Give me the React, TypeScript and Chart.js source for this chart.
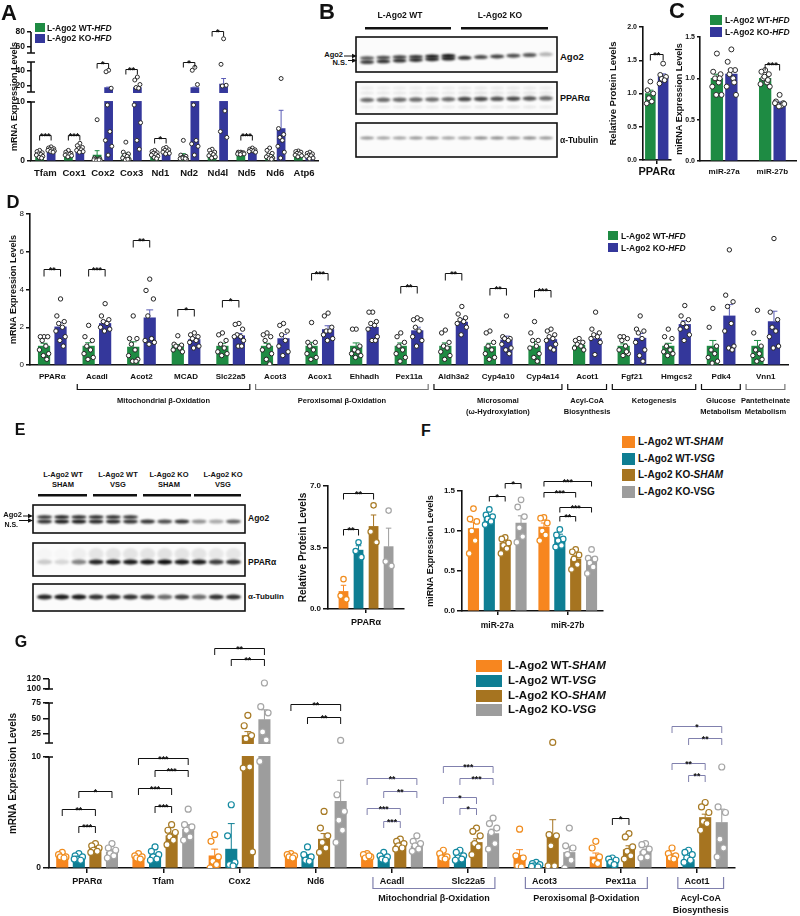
import React, { useEffect, useRef } from 'react';
import { Chart, registerables, LinearScale } from 'chart.js';

Chart.register(...registerables);

const FONT = 'Arial, "Liberation Sans", Helvetica, sans-serif';

// ---------- broken axis ----------
type Seg = { v0: number; v1: number; f0: number; f1: number };
const SEGMENTS: Record<string, Seg[]> = {
  A: [
    { v0: 0, v1: 10, f0: 0, f1: 0.457 },
    { v0: 12, v1: 52, f0: 0.535, f1: 0.767 },
    { v0: 52, v1: 80, f0: 0.837, f1: 1 },
  ],
  G: [
    { v0: 0, v1: 10, f0: 0, f1: 0.5873 },
    { v0: 10, v1: 75, f0: 0.6614, f1: 0.873 },
    { v0: 100, v1: 120, f0: 0.947, f1: 1 },
  ],
};
function segDec(segs: Seg[], v: number) {
  const s0 = segs[0];
  if (v <= s0.v1) return s0.f0 + ((v - s0.v0) / (s0.v1 - s0.v0)) * (s0.f1 - s0.f0);
  for (let i = 1; i < segs.length; i++) {
    const p = segs[i - 1], s = segs[i];
    if (v < s.v0) return p.f1 + ((v - p.v1) / (s.v0 - p.v1)) * (s.f0 - p.f1);
    if (v <= s.v1 || i === segs.length - 1) return s.f0 + ((v - s.v0) / (s.v1 - s.v0)) * (s.f1 - s.f0);
  }
  return 1;
}
function segVal(segs: Seg[], d: number) {
  const s0 = segs[0];
  if (d <= s0.f1) return s0.v0 + ((d - s0.f0) / (s0.f1 - s0.f0)) * (s0.v1 - s0.v0);
  for (let i = 1; i < segs.length; i++) {
    const p = segs[i - 1], s = segs[i];
    if (d < s.f0) return p.v1 + ((d - p.f1) / (s.f0 - p.f1)) * (s.v0 - p.v1);
    if (d <= s.f1 || i === segs.length - 1) return s.v0 + ((d - s.f0) / (s.f1 - s.f0)) * (s.v1 - s.v0);
  }
  return 0;
}
class BrokenScale extends (LinearScale as any) {
  static id = 'broken';
  static defaults = (LinearScale as any).defaults;
  segs(): Seg[] {
    return SEGMENTS[(this as any).options.segKey];
  }
  getPixelForValue(value: number) {
    if (value === null || value === undefined || isNaN(value)) return NaN;
    return (this as any).getPixelForDecimal(segDec(this.segs(), value));
  }
  getValueForPixel(pixel: number) {
    return segVal(this.segs(), (this as any).getDecimalForPixel(pixel));
  }
}
Chart.register(BrokenScale as any);

// ---------- colours ----------
const GREEN = '#1e8b43';
const BLUE = '#34379b';
const ORANGE = '#f7861f';
const TEAL = '#0e7e93';
const BROWN = '#a67420';
const GRAY = '#9d9d9d';
const PURPLE = '#8080ad';

// ---------- data: panel A ----------
const A_CATS = ['Tfam', 'Cox1', 'Cox2', 'Cox3', 'Nd1', 'Nd2', 'Nd4l', 'Nd5', 'Nd6', 'Atp6'];
const A_WT_MEAN = [1.15, 1.2, 1.0, 1.0, 1.1, 0.9, 1.2, 1.3, 1.0, 1.2];
const A_WT_SEM = [0.15, 0.15, 0.75, 0.35, 0.15, 0.35, 0.2, 0.1, 0.22, 0.12];
const A_KO_MEAN = [1.9, 2.0, 18, 18, 1.6, 18, 22.5, 1.8, 5.5, 0.95];
const A_KO_SEM = [0.12, 0.2, 0.5, 0.5, 0.15, 0.5, 7.5, 0.1, 3.1, 0.12];
const A_WT_PTS = [
  [1.8, 1.6, 1.4, 1.2, 1.1, 1.0, 0.8, 0.6, 0.5],
  [1.8, 1.5, 1.3, 1.2, 1.1, 1.0, 0.9, 0.7],
  [7.0, 0.5, 0.4, 0.3, 0.2, 0.2, 0.1, 0.1, 0.2],
  [3.2, 1.5, 1.2, 1.0, 0.8, 0.5, 0.3, 0.2, 0.3],
  [1.8, 1.6, 1.4, 1.3, 1.1, 1.0, 0.8, 0.6, 0.4],
  [3.5, 1.0, 0.8, 0.6, 0.5, 0.4, 0.3, 0.5, 0.4],
  [2.0, 1.8, 1.5, 1.3, 1.1, 0.9, 0.7, 0.5],
  [1.5, 1.5, 1.4, 1.4, 1.3, 1.2, 1.2, 1.1],
  [2.2, 1.8, 1.3, 1.0, 0.8, 0.7, 0.5, 0.4, 0.3],
  [1.7, 1.6, 1.5, 1.3, 1.2, 1.0, 0.9, 0.7],
];
const A_KO_PTS = [
  [2.4, 2.2, 2.1, 2.0, 1.9, 1.8, 1.7, 1.6, 1.5],
  [3.0, 2.6, 2.3, 2.1, 1.9, 1.8, 1.6, 1.5],
  [41, 39, 17, 9.5, 5.0, 3.5, 2.5, 1.0],
  [32, 28, 22, 18, 17, 9.5, 6.5, 3.5, 2.0],
  [2.3, 2.1, 1.9, 1.8, 1.6, 1.5, 1.3, 1.2],
  [45, 41, 22, 9.5, 3.5, 2.9, 2.5, 1.0],
  [71, 49, 21, 20, 8.5, 5.0, 4.0],
  [2.2, 2.0, 1.9, 1.8, 1.7, 1.6, 1.5],
  [30, 5.5, 4.5, 4.0, 3.5, 2.5, 1.5, 0.5],
  [1.5, 1.3, 1.2, 1.0, 0.9, 0.8, 0.5, 0.4],
];
const A_BRACKETS = [
  { c: 0, a: 0, b: 1, y: 4.4, t: '***' },
  { c: 1, a: 0, b: 1, y: 4.4, t: '***' },
  { c: 2, a: 0, b: 1, y: 50.5, t: '*' },
  { c: 3, a: 0, b: 1, y: 42.5, t: '**' },
  { c: 4, a: 0, b: 1, y: 3.9, t: '*' },
  { c: 5, a: 0, b: 1, y: 52, t: '*' },
  { c: 6, a: 0, b: 1, y: 81.5, t: '*' },
  { c: 7, a: 0, b: 1, y: 4.4, t: '***' },
];
const A_TICKS = [0, 10, 20, 40, 60, 80];

// ---------- data: panel B ----------
const B_CATS = ['PPARα'];
const B_WT_MEAN = [1.0];
const B_WT_SEM = [0.05];
const B_WT_PTS = [[1.18, 1.05, 1.0, 0.93, 0.88, 0.85]];
const B_KO_MEAN = [1.25];
const B_KO_SEM = [0.045];
const B_KO_PTS = [[1.45, 1.28, 1.25, 1.22, 1.2, 1.15]];
const B_BRACKETS = [{ c: 0, a: 0, b: 1, y: 1.6, t: '**' }];
const B_TICKS = [0, 0.5, 1.0, 1.5, 2.0];
const B_AGO2 = [0.7, 0.75, 0.8, 0.85, 0.95, 1.0, 0, 0, 0, 0, 0, 0];
const B_NS = [0.8, 0.85, 0.85, 0.85, 0.9, 0.9, 0.85, 0.75, 0.8, 0.75, 0.7, 0.3];
const B_PPARA = [0.6, 0.6, 0.6, 0.6, 0.6, 0.6, 0.75, 0.75, 0.7, 0.75, 0.7, 0.6];
const B_TUB = [0.45, 0.4, 0.4, 0.45, 0.45, 0.4, 0.4, 0.5, 0.5, 0.45, 0.5, 0.45];

// ---------- data: panel C ----------
const C_CATS = ['miR-27a', 'miR-27b'];
const C_WT_MEAN = [1.0, 1.0];
const C_WT_SEM = [0.05, 0.025];
const C_WT_PTS = [
  [1.3, 1.08, 1.05, 1.0, 0.95, 0.9, 0.8, 0.8, 1.0],
  [1.1, 1.08, 1.05, 1.0, 0.95, 0.93, 0.9, 1.02, 0.98],
];
const C_KO_MEAN = [1.05, 0.7];
const C_KO_SEM = [0.06, 0.015];
const C_KO_PTS = [
  [1.35, 1.2, 1.1, 1.05, 1.0, 0.9, 0.8, 1.1, 0.95],
  [0.8, 0.72, 0.7, 0.68, 0.67, 0.7, 0.69, 0.66],
];
const C_BRACKETS = [{ c: 1, a: 0, b: 1, y: 1.17, t: '***' }];
const C_TICKS = [0, 0.5, 1.0, 1.5];

// ---------- data: panel D ----------
const D_CATS = ['PPARα', 'Acadl', 'Acot2', 'MCAD', 'Slc22a5', 'Acot3', 'Acox1', 'Ehhadh', 'Pex11a', 'Aldh3a2', 'Cyp4a10', 'Cyp4a14', 'Acot1', 'Fgf21', 'Hmgcs2', 'Pdk4', 'Vnn1'];
const D_WT_MEAN = [1.0, 1.0, 0.95, 1.0, 1.0, 1.0, 1.0, 1.0, 1.0, 1.0, 0.98, 1.0, 1.05, 1.0, 1.0, 1.0, 1.0];
const D_WT_SEM = [0.15, 0.18, 0.28, 0.08, 0.15, 0.15, 0.2, 0.17, 0.17, 0.17, 0.17, 0.25, 0.07, 0.12, 0.15, 0.3, 0.3];
const D_KO_MEAN = [2.02, 2.2, 2.5, 1.35, 1.55, 1.4, 1.88, 2.0, 1.82, 2.27, 1.33, 1.35, 1.4, 1.42, 2.15, 2.6, 2.3];
const D_KO_SEM = [0.22, 0.15, 0.42, 0.1, 0.12, 0.22, 0.2, 0.18, 0.18, 0.17, 0.2, 0.12, 0.25, 0.25, 0.2, 0.6, 0.55];
const D_WT_PTS = [
  [1.5, 1.5, 1.5, 1.3, 1.0, 0.8, 0.6, 0.5, 0.3],
  [2.1, 1.5, 1.3, 1.0, 0.8, 0.6, 0.4, 0.3],
  [2.6, 1.4, 1.4, 1.1, 0.8, 0.5, 0.3, 0.2, 0.2],
  [1.55, 1.1, 1.05, 1.0, 0.9, 0.8, 0.7],
  [1.7, 1.6, 1.3, 1.1, 0.9, 0.7, 0.6, 0.5],
  [1.7, 1.6, 1.5, 1.3, 1.0, 0.8, 0.6, 0.3, 0.05],
  [2.25, 1.2, 1.2, 1.0, 0.8, 0.6, 0.4, 0.3],
  [1.9, 1.9, 1.0, 0.8, 0.7, 0.6, 0.5, 0.4],
  [1.7, 1.5, 1.2, 1.0, 0.8, 0.6, 0.4, 0.2],
  [1.85, 1.7, 1.2, 1.0, 0.9, 0.7, 0.5, 0.3],
  [1.8, 1.7, 1.2, 1.0, 0.8, 0.6, 0.4, 0.3],
  [2.3, 1.7, 1.3, 1.3, 1.0, 0.9, 0.6, 0.4, 0.2],
  [1.4, 1.3, 1.2, 1.1, 1.0, 0.9, 0.8],
  [1.5, 1.5, 1.4, 1.3, 1.0, 0.8, 0.6, 0.5, 0.7],
  [1.9, 1.5, 1.4, 1.0, 0.8, 0.7, 0.6, 0.5],
  [3.0, 2.0, 1.0, 0.8, 0.6, 0.4, 0.2, 0.1],
  [2.9, 1.7, 1.0, 0.8, 0.6, 0.5, 0.3, 0.2],
];
const D_KO_PTS = [
  [3.5, 2.6, 2.3, 2.2, 2.0, 1.8, 1.5, 1.3, 1.0],
  [3.25, 2.6, 2.4, 2.3, 2.2, 2.0, 1.9, 1.8],
  [4.55, 3.95, 3.5, 2.6, 1.4, 1.3, 1.2, 1.1],
  [1.7, 1.6, 1.5, 1.4, 1.3, 1.2, 1.0, 0.9],
  [2.2, 2.15, 1.9, 1.6, 1.5, 1.5, 1.3, 1.0, 1.0],
  [2.2, 2.1, 1.8, 1.6, 1.3, 1.0, 0.7, 0.5],
  [2.75, 2.6, 2.0, 1.8, 1.8, 1.6, 1.4, 1.3],
  [2.8, 2.8, 2.3, 2.2, 2.1, 1.9, 1.5, 1.3, 1.3],
  [2.5, 2.4, 2.4, 2.0, 1.8, 1.5, 1.3, 1.0],
  [3.1, 2.7, 2.5, 2.4, 2.3, 2.2, 2.0, 1.6],
  [2.6, 1.5, 1.4, 1.4, 1.3, 1.1, 0.9, 0.8, 0.6],
  [1.9, 1.8, 1.6, 1.5, 1.4, 1.3, 1.1, 0.9, 0.8],
  [2.8, 1.9, 1.7, 1.6, 1.5, 1.4, 1.2, 0.55],
  [2.6, 1.9, 1.8, 1.7, 1.4, 1.2, 0.8, 0.5, 0.2],
  [3.15, 2.6, 2.4, 2.2, 2.0, 1.9, 1.6, 1.3],
  [6.1, 3.7, 3.35, 3.1, 2.2, 1.8, 1.0, 0.9, 0.8],
  [6.7, 2.8, 2.4, 2.0, 1.8, 1.5, 1.0, 0.9],
];
const D_BRACKETS = [
  { c: 0, a: 0, b: 1, y: 5.1, t: '**' },
  { c: 1, a: 0, b: 1, y: 5.1, t: '***' },
  { c: 2, a: 0, b: 1, y: 6.6, t: '**' },
  { c: 3, a: 0, b: 1, y: 2.95, t: '*' },
  { c: 4, a: 0, b: 1, y: 3.45, t: '*' },
  { c: 6, a: 0, b: 1, y: 4.9, t: '***' },
  { c: 8, a: 0, b: 1, y: 4.2, t: '**' },
  { c: 9, a: 0, b: 1, y: 4.9, t: '**' },
  { c: 10, a: 0, b: 1, y: 4.1, t: '**' },
  { c: 11, a: 0, b: 1, y: 4.0, t: '***' },
];
const D_TICKS = [0, 2, 4, 6, 8];
const D_GROUPS = [
  { from: 1, to: 4, lines: ['Mitochondrial β-Oxidation'], col: '#111' },
  { from: 5, to: 8, lines: ['Peroxisomal β-Oxidation'], col: '#777' },
  { from: 9, to: 11, lines: ['Microsomal', '(ω-Hydroxylation)'], col: '#111' },
  { from: 12, to: 12, lines: ['Acyl-CoA', 'Biosynthesis'], col: '#111' },
  { from: 13, to: 14, lines: ['Ketogenesis'], col: '#111' },
  { from: 15, to: 15, lines: ['Glucose', 'Metabolism'], col: '#111' },
  { from: 16, to: 16, lines: ['Pantetheinate', 'Metabolism'], col: '#777' },
];

// ---------- data: panel E ----------
const E_CATS = ['PPARα'];
const E_WS_MEAN = [1.0];
const E_WS_SEM = [0.35];
const E_WS_PTS = [[1.7, 0.75, 0.55]];
const E_WV_MEAN = [3.35];
const E_WV_SEM = [0.25];
const E_WV_PTS = [[3.8, 3.3, 2.95]];
const E_KS_MEAN = [4.7];
const E_KS_SEM = [0.65];
const E_KS_PTS = [[5.9, 4.4, 3.8]];
const E_KV_MEAN = [3.55];
const E_KV_SEM = [1.05];
const E_KV_PTS = [[5.6, 2.7, 2.45]];
const E_BRACKETS = [
  { c: 0, a: 0, b: 2, y: 6.6, t: '**' },
  { c: 0, a: 0, b: 1, y: 4.55, t: '**' },
];
const E_TICKS = [0, 3.5, 7.0];
const E_AGO2 = [0.85, 0.95, 0.9, 0.9, 0.9, 0.85, 0, 0, 0, 0, 0, 0];
const E_NS = [0.85, 0.95, 0.95, 0.9, 0.9, 0.85, 0.85, 0.75, 0.85, 0.45, 0.35, 0.65];
const E_PPARA = [0.2, 0.15, 0.5, 0.9, 0.95, 0.95, 0.95, 1.0, 0.95, 0.95, 0.8, 0.85];
const E_TUB = [0.9, 0.95, 0.95, 0.85, 0.85, 0.85, 0.8, 0.6, 0.8, 0.6, 0.85, 0.85];

// ---------- data: panel F ----------
const F_CATS = ['miR-27a', 'miR-27b'];
const F_WS_MEAN = [1.03, 1.05];
const F_WS_SEM = [0.08, 0.05];
const F_WS_PTS = [[1.28, 1.15, 1.12, 1.0, 0.88, 0.72], [1.17, 1.16, 1.1, 1.0, 0.95, 0.88]];
const F_WV_MEAN = [1.17, 0.92];
const F_WV_SEM = [0.03, 0.04];
const F_WV_PTS = [[1.27, 1.2, 1.18, 1.15, 1.12, 1.08], [1.02, 0.95, 0.9, 0.88, 0.82, 0.8]];
const F_KS_MEAN = [0.85, 0.65];
const F_KS_SEM = [0.03, 0.04];
const F_KS_PTS = [[0.92, 0.9, 0.85, 0.82, 0.78, 0.72], [0.77, 0.74, 0.7, 0.65, 0.58, 0.52]];
const F_KV_MEAN = [1.1, 0.63];
const F_KV_SEM = [0.09, 0.04];
const F_KV_PTS = [[1.39, 1.3, 1.18, 1.04, 0.93, 0.86], [0.77, 0.66, 0.65, 0.6, 0.55, 0.47]];
const F_BRACKETS = [
  { c: 0, a: 1, b: 2, y: 1.44, t: '*' },
  { c: 0, a: 2, b: 3, y: 1.6, t: '*' },
  { c: 1, a: 0, b: 3, y: 1.63, t: '***' },
  { c: 1, a: 0, b: 2, y: 1.49, t: '***' },
  { c: 1, a: 1, b: 3, y: 1.3, t: '***' },
  { c: 1, a: 1, b: 2, y: 1.19, t: '**' },
];
const F_TICKS = [0, 0.5, 1.0, 1.5];

// ---------- data: panel G ----------
const G_CATS = ['PPARα', 'Tfam', 'Cox2', 'Nd6', 'Acadl', 'Slc22a5', 'Acot3', 'Pex11a', 'Acot1'];
const G_WS_MEAN = [1.1, 1.0, 1.1, 1.1, 1.1, 1.1, 1.15, 1.0, 1.1];
const G_WS_SEM = [0.1, 0.1, 0.6, 0.1, 0.1, 0.15, 0.5, 0.35, 0.17];
const G_WS_PTS = [
  [1.4, 1.2, 1.0, 1.0, 0.9],
  [1.3, 1.1, 1.0, 0.9, 0.8],
  [3.0, 2.4, 1.0, 0.6, 0.3, 0.0],
  [1.3, 1.2, 1.1, 1.0, 0.9],
  [1.3, 1.2, 1.0, 0.9, 1.1],
  [1.6, 1.3, 1.0, 0.9, 0.8],
  [3.5, 1.1, 0.9, 0.2, 0.1],
  [2.4, 1.8, 1.0, 0.6, 0.4],
  [1.8, 1.3, 1.1, 0.9, 0.8],
];
const G_WV_MEAN = [0.95, 1.1, 1.7, 1.0, 0.95, 1.0, 0.3, 0.55, 0.75];
const G_WV_SEM = [0.1, 0.15, 2.3, 0.2, 0.12, 0.13, 0.06, 0.1, 0.15];
const G_WV_PTS = [
  [1.3, 1.1, 1.0, 0.8, 0.7, 0.8],
  [1.9, 1.5, 1.2, 1.0, 0.8, 0.7],
  [5.7, 2.9, 0.5, 0.3, 0.2],
  [1.9, 1.2, 1.0, 0.7, 0.6],
  [1.4, 1.1, 1.0, 0.8, 0.7],
  [1.6, 1.4, 1.1, 0.9, 0.8, 0.7],
  [0.5, 0.4, 0.3, 0.2, 0.1, 0.15],
  [0.9, 0.8, 0.7, 0.5, 0.3],
  [1.6, 1.4, 1.2, 0.9, 0.7, 0.5],
];
const G_KS_MEAN = [1.75, 2.9, 22, 2.6, 2.1, 2.3, 3.0, 1.65, 4.55];
const G_KS_SEM = [0.12, 0.25, 6.5, 0.5, 0.15, 0.33, 1.35, 0.35, 0.3];
const G_KS_PTS = [
  [2.2, 2.0, 1.8, 1.6, 1.5, 1.4],
  [3.9, 3.4, 3.2, 2.8, 2.5, 2.1],
  [55, 38, 22, 17, 9.1, 9.0, 1.45],
  [5.1, 3.6, 2.9, 2.3, 1.8, 1.4],
  [2.6, 2.4, 2.2, 2.0, 1.8, 1.7],
  [3.6, 3.3, 2.9, 2.2, 1.9, 1.2],
  [11, 3.0, 2.9, 2.0, 0.2, 0.2],
  [3.1, 2.8, 1.9, 1.5, 1.1, 0.8],
  [5.9, 5.5, 5.0, 4.2, 4.0, 3.4],
];
const G_KV_MEAN = [1.45, 3.5, 48, 6.0, 1.97, 3.1, 1.4, 1.5, 4.1];
const G_KV_SEM = [0.2, 0.4, 16, 1.9, 0.2, 0.4, 0.5, 0.2, 1.2];
const G_KV_PTS = [
  [2.2, 1.8, 1.6, 1.3, 1.1, 0.9],
  [5.3, 3.9, 3.7, 3.4, 2.8, 2.5],
  [112, 69, 59, 28, 15, 9.6],
  [14.2, 6.6, 5.1, 4.3, 3.4, 2.3],
  [2.9, 2.4, 2.2, 2.0, 1.7, 1.5],
  [4.5, 4.0, 3.6, 3.2, 2.2, 1.7],
  [3.6, 2.0, 1.8, 1.2, 0.7, 0.0],
  [2.2, 2.1, 1.7, 1.4, 1.0, 0.9],
  [9.1, 5.5, 5.0, 2.6, 1.8, 1.0],
];
const G_BRACKETS = [
  { c: 0, a: 1, b: 3, y: 6.9, t: '*' },
  { c: 0, a: 0, b: 2, y: 5.3, t: '**' },
  { c: 0, a: 1, b: 2, y: 3.75, t: '***' },
  { c: 1, a: 0, b: 3, y: 9.95, t: '***' },
  { c: 1, a: 1, b: 3, y: 8.8, t: '***' },
  { c: 1, a: 0, b: 2, y: 7.2, t: '***' },
  { c: 1, a: 1, b: 2, y: 5.6, t: '***' },
  { c: 2, a: 0, b: 3, y: 182, t: '**' },
  { c: 2, a: 1, b: 3, y: 159, t: '**' },
  { c: 3, a: 0, b: 3, y: 73, t: '**' },
  { c: 3, a: 1, b: 3, y: 53, t: '**' },
  { c: 4, a: 0, b: 3, y: 8.1, t: '**', col: PURPLE },
  { c: 4, a: 1, b: 3, y: 6.95, t: '**', col: PURPLE },
  { c: 4, a: 0, b: 2, y: 5.4, t: '***', col: PURPLE },
  { c: 4, a: 1, b: 2, y: 4.2, t: '***', col: PURPLE },
  { c: 5, a: 0, b: 3, y: 9.2, t: '***', col: PURPLE },
  { c: 5, a: 1, b: 3, y: 8.1, t: '***', col: PURPLE },
  { c: 5, a: 0, b: 2, y: 6.4, t: '*', col: PURPLE },
  { c: 5, a: 1, b: 2, y: 5.37, t: '*', col: PURPLE },
  { c: 7, a: 1, b: 2, y: 4.5, t: '*' },
  { c: 8, a: 0, b: 3, y: 38, t: '*', col: PURPLE },
  { c: 8, a: 1, b: 3, y: 18, t: '**', col: PURPLE },
  { c: 8, a: 0, b: 2, y: 9.5, t: '**', col: PURPLE },
  { c: 8, a: 1, b: 2, y: 8.4, t: '**', col: PURPLE },
];
const G_TICKS = [0, 10, 25, 50, 75, 100, 120];
const G_GROUPS = [
  { from: 4, to: 5, lines: ['Mitochondrial β-Oxidation'], col: PURPLE },
  { from: 6, to: 7, lines: ['Peroxisomal β-Oxidation'], col: PURPLE },
  { from: 8, to: 8, lines: ['Acyl-CoA', 'Biosynthesis'], col: PURPLE },
];

// ---------- builders ----------
const SPREAD = [0, -0.32, 0.32, -0.16, 0.16, -0.4, 0.4, -0.06, 0.24, -0.24, 0.08, -0.1];

function panelConfig(p: any) {
  const n = p.cats.length;
  const k = p.series.length;
  const off = (j: number) => -p.cp / 2 + (p.cp / k) * (j + 0.5);
  const bw = (p.cp / k) * p.bp;
  const thick = (bw * (p.area.r - p.area.l)) / n;
  const datasets: any[] = [];
  p.series.forEach((s: any, j: number) =>
    datasets.push({
      type: 'bar', label: s.label,
      data: s.mean.map((m: number, i: number) => ({ x: i + off(j), y: m })),
      backgroundColor: s.color, borderWidth: 0, order: 2, grouped: false, barThickness: thick,
      xAxisID: 'xp', yAxisID: 'y',
    })
  );
  p.series.forEach((s: any, j: number) => {
    const data: any[] = [];
    s.pts.forEach((arr: number[], i: number) =>
      arr.forEach((v, q) => data.push({ x: i + off(j) + SPREAD[q % SPREAD.length] * bw, y: v }))
    );
    datasets.push({
      type: 'scatter', data, order: 1, xAxisID: 'xp', yAxisID: 'y', pointRadius: p.ptR, pointHoverRadius: p.ptR,
      pointBorderWidth: p.ptW || 1, pointBackgroundColor: '#fff', pointBorderColor: s.pt,
    });
  });
  const padL = p.titleX - p.box.x - p.titleSize / 2;
  const segs = p.segKey ? SEGMENTS[p.segKey] : null;
  const plugin = {
    id: 'decor',
    afterDatasetDraw(chart: any, args: any) {
      const i = args.index;
      if (i >= k) return;
      const ctx = chart.ctx;
      const ys = chart.scales.y;
      const s = p.series[i];
      ctx.save();
      ctx.strokeStyle = s.err || s.color;
      ctx.lineWidth = 1;
      args.meta.data.forEach((el: any, c: number) => {
        const e = s.sem[c];
        if (!e) return;
        const y0 = ys.getPixelForValue(s.mean[c]);
        const y1 = ys.getPixelForValue(s.mean[c] + e);
        const hw = el.width * 0.3;
        ctx.beginPath();
        ctx.moveTo(el.x, y0);
        ctx.lineTo(el.x, y1);
        ctx.moveTo(el.x - hw, y1);
        ctx.lineTo(el.x + hw, y1);
        ctx.stroke();
      });
      if (i === 0 && segs) {
        const a = chart.chartArea;
        ctx.fillStyle = '#fff';
        for (let g = 1; g < segs.length; g++) {
          const yLow = ys.getPixelForDecimal(segs[g - 1].f1);
          const yHigh = ys.getPixelForDecimal(segs[g].f0);
          ctx.fillRect(a.left + 1, yHigh + 1, a.right - a.left, yLow - yHigh - 2);
        }
      }
      ctx.restore();
    },
    afterDraw(chart: any) {
      const ctx = chart.ctx;
      const ys = chart.scales.y;
      const xp = chart.scales.xp;
      const a = chart.chartArea;
      ctx.save();
      if (segs) {
        ctx.strokeStyle = '#111';
        ctx.lineWidth = 1.6;
        segs.forEach((s: Seg, idx: number) => {
          const yb = ys.getPixelForDecimal(s.f0);
          const yt = ys.getPixelForDecimal(s.f1);
          ctx.beginPath();
          ctx.moveTo(a.left, yb);
          ctx.lineTo(a.left, yt);
          if (idx > 0) { ctx.moveTo(a.left - 4, yb); ctx.lineTo(a.left + 4, yb); }
          if (idx < segs.length - 1) { ctx.moveTo(a.left - 4, yt); ctx.lineTo(a.left + 4, yt); }
          ctx.stroke();
        });
      }
      ctx.lineWidth = 1;
      ctx.textAlign = 'center';
      ctx.textBaseline = 'alphabetic';
      ctx.font = `bold ${p.starSize}px ${FONT}`;
      for (const br of p.brackets) {
        const col = br.col || '#111';
        ctx.strokeStyle = col;
        ctx.fillStyle = '#111';
        const xa = xp.getPixelForValue(br.c + off(br.a));
        const xb = xp.getPixelForValue(br.c + off(br.b));
        const yy = Math.round(ys.getPixelForValue(br.y)) + 0.5;
        ctx.beginPath();
        ctx.moveTo(xa, yy + p.leg);
        ctx.lineTo(xa, yy);
        ctx.lineTo(xb, yy);
        ctx.lineTo(xb, yy + p.leg);
        ctx.stroke();
        ctx.fillText(br.t, (xa + xb) / 2, yy + p.starSize * 0.38);
      }
      if (p.groups) {
        ctx.font = `bold ${p.gSize}px ${FONT}`;
        ctx.textBaseline = 'middle';
        for (const g of p.groups) {
          const xl = xp.getPixelForValue(g.from + p.gL);
          const xr = xp.getPixelForValue(g.to + p.gR);
          const yt = a.bottom + p.gLegTop;
          const yb = Math.round(a.bottom + p.gLegBot) + 0.5;
          ctx.strokeStyle = g.col;
          ctx.lineWidth = 1.2;
          ctx.beginPath();
          ctx.moveTo(xl, yt);
          ctx.lineTo(xl, yb);
          ctx.lineTo(xr, yb);
          ctx.lineTo(xr, yt);
          ctx.stroke();
          ctx.fillStyle = '#111';
          g.lines.forEach((ln: string, li: number) =>
            ctx.fillText(ln, (xl + xr) / 2, a.bottom + p.gText + li * p.gLine)
          );
        }
      }
      ctx.restore();
    },
  };
  return {
    type: 'bar',
    data: { labels: p.cats, datasets },
    options: {
      responsive: false, animation: false, devicePixelRatio: 1, events: [],
      layout: { padding: { left: padL, top: p.area.t - p.box.y, right: p.box.x + p.box.w - p.area.r, bottom: 0 } },
      plugins: { legend: { display: false }, tooltip: { enabled: false }, title: { display: false } },
      scales: {
        x: {
          type: 'category', offset: true,
          grid: p.xTick
            ? { display: true, drawOnChartArea: false, drawTicks: true, offset: false, tickLength: p.xTick, color: '#111', lineWidth: 1.5 }
            : { display: false, drawTicks: false },
          border: { display: true, color: '#111', width: 1.6 },
          ticks: { color: '#111', font: { family: FONT, size: p.xFont, weight: 'bold', lineHeight: 1 }, padding: p.xPad, autoSkip: false, maxRotation: 0, minRotation: 0 },
          afterFit: (s: any) => { s.height = p.box.y + p.box.h - p.area.b; },
        },
        xp: { type: 'linear', display: false, offset: false, grid: { offset: false }, min: -0.5, max: n - 0.5 },
        y: {
          type: p.segKey ? 'broken' : 'linear', segKey: p.segKey, min: p.min, max: p.max,
          afterBuildTicks: (s: any) => { s.ticks = p.ticks.map((v: number) => ({ value: v })); },
          grid: { display: true, drawOnChartArea: false, drawTicks: true, tickLength: p.yTick, color: '#111', lineWidth: 1.5 },
          border: { display: !p.segKey, color: '#111', width: 1.6 },
          ticks: { color: '#111', font: { family: FONT, size: p.yFont, weight: p.yWeight || 'bold', lineHeight: 1 }, padding: 2, callback: (v: any) => p.fmt(Number(v)) },
          title: { display: true, text: p.title, color: '#111', padding: 0, font: { family: FONT, size: p.titleSize, weight: 'bold', lineHeight: 1 } },
          afterFit: (s: any) => { s.width = p.area.l - p.box.x - padL; },
        },
      },
    },
    plugins: [plugin],
  };
}

function blotConfig(rows: any[], lanes: number) {
  return {
    type: 'scatter',
    data: { datasets: [] },
    options: {
      responsive: false, animation: false, devicePixelRatio: 1, events: [],
      layout: { padding: { left: 4, right: 4, top: 0, bottom: 0 } },
      plugins: { legend: { display: false }, tooltip: { enabled: false } },
      scales: { x: { type: 'linear', display: false, offset: false, min: 0, max: lanes }, y: { type: 'linear', display: false, min: 0, max: 1 } },
    },
    plugins: [{
      id: 'blot',
      afterDraw(chart: any) {
        const ctx = chart.ctx;
        const xs = chart.scales.x;
        const W = chart.width;
        const lw = (xs.right - xs.left) / lanes;
        for (const r of rows) {
          ctx.save();
          ctx.fillStyle = '#fbfbfb';
          ctx.fillRect(1, r.top, W - 2, r.bottom - r.top);
          ctx.beginPath();
          ctx.rect(1, r.top, W - 2, r.bottom - r.top);
          ctx.clip();
          ctx.filter = 'blur(1.1px)';
          for (const b of r.bands) {
            b.vals.forEach((v: number, i: number) => {
              if (v <= 0) return;
              const xc = xs.getPixelForValue(i + 0.5);
              const yc = r.top + b.y + i * b.tilt;
              ctx.fillStyle = `rgba(12,12,12,${Math.min(1, v * b.k)})`;
              ctx.beginPath();
              ctx.ellipse(xc, yc, lw * 0.44, b.h / 2, 0, 0, Math.PI * 2);
              ctx.fill();
            });
          }
          ctx.restore();
          ctx.save();
          ctx.strokeStyle = '#111';
          ctx.lineWidth = 1.6;
          ctx.strokeRect(1, r.top, W - 2, r.bottom - r.top);
          ctx.restore();
        }
      },
    }],
  };
}

// ---------- panel specs ----------
const fmt0 = (v: number) => String(v);
const fmt1 = (v: number) => v.toFixed(1);

const PANEL_A = {
  box: { x: 0, y: 20, w: 322, h: 160 }, area: { l: 31, t: 32, r: 319, b: 161 },
  titleX: 15, titleSize: 9, title: 'mRNA Expression Levels',
  cats: A_CATS, min: 0, max: 80, ticks: A_TICKS, fmt: fmt0, segKey: 'A',
  series: [
    { label: 'L-Ago2 WT-HFD', color: GREEN, err: GREEN, pt: '#2a2a2a', mean: A_WT_MEAN, sem: A_WT_SEM, pts: A_WT_PTS },
    { label: 'L-Ago2 KO-HFD', color: BLUE, err: '#5a5cb5', pt: '#2a2a2a', mean: A_KO_MEAN, sem: A_KO_SEM, pts: A_KO_PTS },
  ],
  cp: 0.8, bp: 0.7, ptR: 2, brackets: A_BRACKETS, leg: 5, starSize: 9,
  xTick: 0, xPad: 7.2, xFont: 9.5, yFont: 8.5, yTick: 4,
};
const PANEL_B = {
  box: { x: 596, y: 20, w: 86, h: 165 }, area: { l: 643, t: 27, r: 673, b: 160 },
  titleX: 613, titleSize: 9.5, title: 'Relative Protein Levels',
  cats: B_CATS, min: 0, max: 2, ticks: B_TICKS, fmt: fmt1,
  series: [
    { label: 'WT', color: GREEN, err: GREEN, pt: '#2a2a2a', mean: B_WT_MEAN, sem: B_WT_SEM, pts: B_WT_PTS },
    { label: 'KO', color: BLUE, err: '#5a5cb5', pt: '#2a2a2a', mean: B_KO_MEAN, sem: B_KO_SEM, pts: B_KO_PTS },
  ],
  cp: 0.93, bp: 0.71, ptR: 2.4, brackets: B_BRACKETS, leg: 6, starSize: 9,
  xTick: 4, xPad: 2.5, xFont: 11, yFont: 7, yTick: 4,
};
const PANEL_C = {
  box: { x: 668, y: 20, w: 132, h: 165 }, area: { l: 700, t: 37, r: 797, b: 161 },
  titleX: 680, titleSize: 9, title: 'miRNA Expression Levels',
  cats: C_CATS, min: 0, max: 1.5, ticks: C_TICKS, fmt: fmt1,
  series: [
    { label: 'L-Ago2 WT-HFD', color: GREEN, err: GREEN, pt: '#2a2a2a', mean: C_WT_MEAN, sem: C_WT_SEM, pts: C_WT_PTS },
    { label: 'L-Ago2 KO-HFD', color: BLUE, err: '#5a5cb5', pt: '#2a2a2a', mean: C_KO_MEAN, sem: C_KO_SEM, pts: C_KO_PTS },
  ],
  cp: 0.6, bp: 0.8, ptR: 2.5, brackets: C_BRACKETS, leg: 6, starSize: 9,
  xTick: 0, xPad: 7, xFont: 8, yFont: 7, yTick: 3,
};
const PANEL_D = {
  box: { x: 0, y: 205, w: 800, h: 217 }, area: { l: 30, t: 214, r: 788, b: 365 },
  titleX: 14, titleSize: 9, title: 'mRNA Expression Levels',
  cats: D_CATS, min: 0, max: 8, ticks: D_TICKS, fmt: fmt0,
  series: [
    { label: 'L-Ago2 WT-HFD', color: GREEN, err: GREEN, pt: '#222', mean: D_WT_MEAN, sem: D_WT_SEM, pts: D_WT_PTS },
    { label: 'L-Ago2 KO-HFD', color: BLUE, err: '#5a5cb5', pt: '#222', mean: D_KO_MEAN, sem: D_KO_SEM, pts: D_KO_PTS },
  ],
  cp: 0.74, bp: 0.7, ptR: 2.2, brackets: D_BRACKETS, leg: 7, starSize: 8.5,
  xTick: 0, xPad: 8, xFont: 8, yFont: 8, yWeight: 'normal', yTick: 4,
  groups: D_GROUPS, gL: -0.44, gR: 0.43, gLegTop: 19, gLegBot: 24, gText: 35.5, gLine: 11, gSize: 7.5,
};
const PANEL_E = {
  box: { x: 290, y: 480, w: 118, h: 150 }, area: { l: 328, t: 486, r: 405, b: 609 },
  titleX: 303, titleSize: 10, title: 'Relative Protein Levels',
  cats: E_CATS, min: 0, max: 7, ticks: E_TICKS, fmt: fmt1,
  series: [
    { label: 'WT-SHAM', color: ORANGE, pt: '#f08c1e', mean: E_WS_MEAN, sem: E_WS_SEM, pts: E_WS_PTS },
    { label: 'WT-VSG', color: TEAL, pt: '#1389a0', mean: E_WV_MEAN, sem: E_WV_SEM, pts: E_WV_PTS },
    { label: 'KO-SHAM', color: BROWN, pt: '#a77a25', mean: E_KS_MEAN, sem: E_KS_SEM, pts: E_KS_PTS },
    { label: 'KO-VSG', color: GRAY, pt: '#a5a5a5', mean: E_KV_MEAN, sem: E_KV_SEM, pts: E_KV_PTS },
  ],
  cp: 0.79, bp: 0.6, ptR: 2.7, ptW: 1.2, brackets: E_BRACKETS, leg: 6, starSize: 9,
  xTick: 4, xPad: 5.5, xFont: 9, yFont: 8, yTick: 5,
};
const PANEL_F = {
  box: { x: 418, y: 470, w: 190, h: 170 }, area: { l: 462, t: 491, r: 603, b: 611 },
  titleX: 431, titleSize: 9, title: 'miRNA Expression Levels',
  cats: F_CATS, min: 0, max: 1.5, ticks: F_TICKS, fmt: fmt1,
  series: [
    { label: 'WT-SHAM', color: ORANGE, pt: '#f08c1e', mean: F_WS_MEAN, sem: F_WS_SEM, pts: F_WS_PTS },
    { label: 'WT-VSG', color: TEAL, pt: '#1389a0', mean: F_WV_MEAN, sem: F_WV_SEM, pts: F_WV_PTS },
    { label: 'KO-SHAM', color: BROWN, pt: '#a77a25', mean: F_KS_MEAN, sem: F_KS_SEM, pts: F_KS_PTS },
    { label: 'KO-VSG', color: GRAY, pt: '#a5a5a5', mean: F_KV_MEAN, sem: F_KV_SEM, pts: F_KV_PTS },
  ],
  cp: 0.9, bp: 0.66, ptR: 2.8, ptW: 1.2, brackets: F_BRACKETS, leg: 5, starSize: 8.5,
  xTick: 4, xPad: 6.75, xFont: 8.5, yFont: 8, yTick: 5,
};
const PANEL_G = {
  box: { x: 0, y: 635, w: 745, h: 281 }, area: { l: 49, t: 679, r: 735, b: 868 },
  titleX: 13, titleSize: 10, title: 'mRNA Expression Levels',
  cats: G_CATS, min: 0, max: 120, ticks: G_TICKS, fmt: fmt0, segKey: 'G',
  series: [
    { label: 'WT-SHAM', color: ORANGE, pt: '#f08c1e', mean: G_WS_MEAN, sem: G_WS_SEM, pts: G_WS_PTS },
    { label: 'WT-VSG', color: TEAL, pt: '#1389a0', mean: G_WV_MEAN, sem: G_WV_SEM, pts: G_WV_PTS },
    { label: 'KO-SHAM', color: BROWN, pt: '#a77a25', mean: G_KS_MEAN, sem: G_KS_SEM, pts: G_KS_PTS },
    { label: 'KO-VSG', color: GRAY, pt: '#a5a5a5', mean: G_KV_MEAN, sem: G_KV_SEM, pts: G_KV_PTS },
  ],
  cp: 0.87, bp: 0.69, ptR: 3, ptW: 1.2, brackets: G_BRACKETS, leg: 6.5, starSize: 8.5,
  xTick: 5, xPad: 4.5, xFont: 9, yFont: 8.5, yTick: 6,
  groups: G_GROUPS, gL: -0.25, gR: 0.35, gLegTop: 9, gLegBot: 20, gText: 31, gLine: 12, gSize: 9,
};

const B_ROWS = [
  { top: 1, bottom: 36, bands: [
    { y: 21, h: 3.5, tilt: -0.45, k: 1, vals: B_AGO2 },
    { y: 25, h: 4, tilt: -0.7, k: 1, vals: B_NS },
  ] },
  { top: 46, bottom: 78, bands: [
    { y: 6, h: 3, tilt: 0, k: 0.12, vals: B_PPARA },
    { y: 11, h: 3, tilt: 0, k: 0.14, vals: B_PPARA },
    { y: 18, h: 4.5, tilt: -0.15, k: 1, vals: B_PPARA },
    { y: 25, h: 3, tilt: 0, k: 0.12, vals: B_PPARA },
  ] },
  { top: 87, bottom: 121, bands: [{ y: 15, h: 3, tilt: 0, k: 1, vals: B_TUB }] },
];
const E_ROWS = [
  { top: 1, bottom: 29, bands: [
    { y: 12, h: 3.5, tilt: 0, k: 1, vals: E_AGO2 },
    { y: 16.5, h: 4, tilt: 0, k: 1, vals: E_NS },
  ] },
  { top: 39, bottom: 72, bands: [
    { y: 11, h: 12, tilt: 0, k: 0.1, vals: E_PPARA },
    { y: 19, h: 5, tilt: 0, k: 1, vals: E_PPARA },
  ] },
  { top: 80, bottom: 107, bands: [{ y: 13, h: 5, tilt: 0, k: 1, vals: E_TUB }] },
];

// ---------- React ----------
function ChartBox({ box, make }: any) {
  const ref = useRef<HTMLCanvasElement>(null);
  useEffect(() => {
    const c = new Chart(ref.current as any, make());
    return () => c.destroy();
  }, []);
  return (
    <canvas ref={ref} width={box.w} height={box.h}
      style={{ position: 'absolute', left: box.x, top: box.y, width: box.w, height: box.h }} />
  );
}

function T({ x, y, s, a = 'c', w = 'bold', children }: any) {
  const tx = a === 'c' ? '-50%' : a === 'r' ? '-100%' : '0';
  return (
    <div style={{ position: 'absolute', left: x, top: y, transform: `translate(${tx}, -50%)`, fontSize: s, fontWeight: w, lineHeight: 1, whiteSpace: 'nowrap', color: '#111' }}>
      {children}
    </div>
  );
}
function Sq({ x, y, w, h, c }: any) {
  return <div style={{ position: 'absolute', left: x, top: y, width: w, height: h, background: c }} />;
}

export default function App() {
  return (
    <div style={{ position: 'absolute', left: 0, top: 0, width: 800, height: 916, background: '#fff', overflow: 'hidden', fontFamily: FONT }}>
      <ChartBox box={PANEL_A.box} make={() => panelConfig(PANEL_A)} />
      <ChartBox box={PANEL_B.box} make={() => panelConfig(PANEL_B)} />
      <ChartBox box={PANEL_C.box} make={() => panelConfig(PANEL_C)} />
      <ChartBox box={PANEL_D.box} make={() => panelConfig(PANEL_D)} />
      <ChartBox box={PANEL_E.box} make={() => panelConfig(PANEL_E)} />
      <ChartBox box={PANEL_F.box} make={() => panelConfig(PANEL_F)} />
      <ChartBox box={PANEL_G.box} make={() => panelConfig(PANEL_G)} />
      <ChartBox box={{ x: 355, y: 36, w: 203, h: 123 }} make={() => blotConfig(B_ROWS, 12)} />
      <ChartBox box={{ x: 32, y: 504, w: 214, h: 108 }} make={() => blotConfig(E_ROWS, 12)} />

      {/* panel letters */}
      <T x={9} y={13} s={22}>A</T>
      <T x={327} y={12} s={22}>B</T>
      <T x={677} y={11} s={22}>C</T>
      <T x={13} y={202} s={18}>D</T>
      <T x={20} y={430} s={16}>E</T>
      <T x={426} y={431} s={16}>F</T>
      <T x={21} y={642} s={16}>G</T>

      {/* legend A */}
      <Sq x={35} y={23} w={10} h={9} c={GREEN} />
      <Sq x={35} y={33.5} w={10} h={9} c={BLUE} />
      <T x={47} y={27.5} s={8.5} a="l">L-Ago2 WT-<i>HFD</i></T>
      <T x={47} y={38} s={8.5} a="l">L-Ago2 KO-<i>HFD</i></T>

      {/* legend C */}
      <Sq x={710} y={15} w={12} h={10} c={GREEN} />
      <Sq x={710} y={27} w={12} h={10} c={BLUE} />
      <T x={725} y={20} s={8.5} a="l">L-Ago2 WT-<i>HFD</i></T>
      <T x={725} y={32} s={8.5} a="l">L-Ago2 KO-<i>HFD</i></T>

      {/* legend D */}
      <Sq x={608} y={231} w={10} h={9} c={GREEN} />
      <Sq x={608} y={243} w={10} h={9} c={BLUE} />
      <T x={621} y={235.5} s={8.5} a="l">L-Ago2 WT-<i>HFD</i></T>
      <T x={621} y={248} s={8.5} a="l">L-Ago2 KO-<i>HFD</i></T>

      {/* legend F */}
      <Sq x={622} y={436} w={13} h={12} c={ORANGE} />
      <Sq x={622} y={452.5} w={13} h={12} c={TEAL} />
      <Sq x={622} y={469} w={13} h={12} c={BROWN} />
      <Sq x={622} y={485.5} w={13} h={12} c={GRAY} />
      <T x={638} y={442} s={10} a="l">L-Ago2 WT-<i>SHAM</i></T>
      <T x={638} y={458.5} s={10} a="l">L-Ago2 WT-<i>VSG</i></T>
      <T x={638} y={475} s={10} a="l">L-Ago2 KO-<i>SHAM</i></T>
      <T x={638} y={491.5} s={10} a="l">L-Ago2 KO-VSG</T>

      {/* legend G */}
      <Sq x={476} y={660} w={26} h={12} c={ORANGE} />
      <Sq x={476} y={675} w={26} h={12} c={TEAL} />
      <Sq x={476} y={690} w={26} h={12} c={BROWN} />
      <Sq x={476} y={704} w={26} h={12} c={GRAY} />
      <T x={508} y={666} s={11.5} a="l">L-Ago2 WT-<i>SHAM</i></T>
      <T x={508} y={681} s={11.5} a="l">L-Ago2 WT-<i>VSG</i></T>
      <T x={508} y={696} s={11.5} a="l">L-Ago2 KO-<i>SHAM</i></T>
      <T x={508} y={710} s={11.5} a="l">L-Ago2 KO-<i>VSG</i></T>

      {/* blot B labels */}
      <T x={400} y={15} s={8.5}>L-Ago2 WT</T>
      <T x={500} y={15} s={8.5}>L-Ago2 KO</T>
      <T x={560} y={57} s={9.5} a="l">Ago2</T>
      <T x={560} y={98} s={9} a="l">PPARα</T>
      <T x={560} y={140} s={8.5} a="l">α-Tubulin</T>
      <T x={343} y={55} s={7.5} a="r">Ago2</T>
      <T x={347} y={63} s={7.5} a="r">N.S.</T>

      {/* blot E labels */}
      <T x={63} y={475} s={7.5}>L-Ago2 WT</T>
      <T x={63} y={485} s={7.5}>SHAM</T>
      <T x={118} y={475} s={7.5}>L-Ago2 WT</T>
      <T x={118} y={485} s={7.5}>VSG</T>
      <T x={169} y={475} s={7.5}>L-Ago2 KO</T>
      <T x={169} y={485} s={7.5}>SHAM</T>
      <T x={223} y={475} s={7.5}>L-Ago2 KO</T>
      <T x={223} y={485} s={7.5}>VSG</T>
      <T x={248} y={518} s={8.5} a="l">Ago2</T>
      <T x={248} y={562} s={8.5} a="l">PPARα</T>
      <T x={248} y={597} s={8} a="l">α-Tubulin</T>
      <T x={22} y={515} s={7.5} a="r">Ago2</T>
      <T x={18} y={524} s={7} a="r">N.S.</T>

      <svg width={800} height={916} style={{ position: 'absolute', left: 0, top: 0 }}>
        <g fill="#111" stroke="none">
          <rect x={365} y={27} width={86} height={2.5} />
          <rect x={461} y={27} width={87} height={2.5} />
          <rect x={38} y={494} width={49} height={2.5} />
          <rect x={93} y={494} width={44} height={2.5} />
          <rect x={143} y={494} width={48} height={2.5} />
          <rect x={194} y={494} width={47} height={2.5} />
          <polygon points="357,56 352,53.8 352,58.2" />
          <polygon points="357,60.5 352,58.3 352,62.7" />
          <polygon points="33,516 28,513.8 28,518.2" />
          <polygon points="33,520.5 28,518.3 28,522.7" />
        </g>
        <g stroke="#111" strokeWidth={1}>
          <line x1={344} y1={56} x2={353} y2={56} />
          <line x1={348} y1={60.5} x2={353} y2={60.5} />
          <line x1={23} y1={516} x2={29} y2={516} />
          <line x1={19} y1={520.5} x2={29} y2={520.5} />
        </g>
      </svg>
    </div>
  );
}
